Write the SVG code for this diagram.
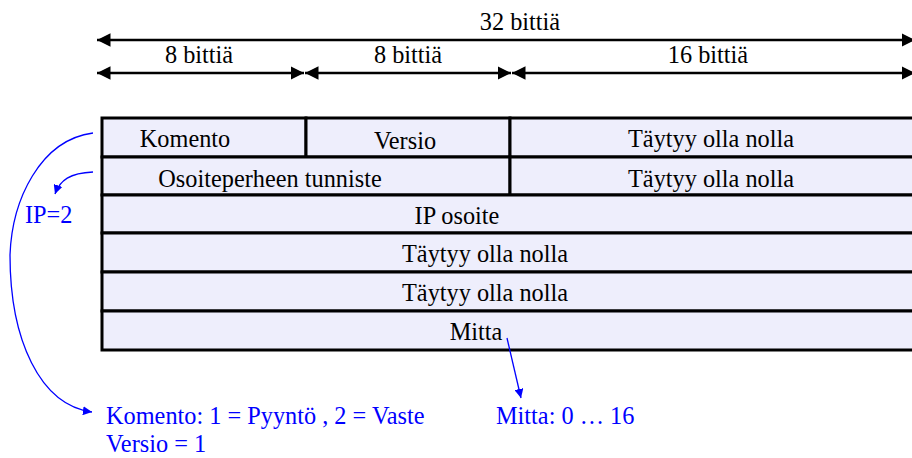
<svg xmlns="http://www.w3.org/2000/svg" width="912" height="458" viewBox="0 0 912 458">
<defs>
<style>
text{font-family:"Liberation Serif","Times New Roman",serif;font-size:24.3px;fill:#000}
.c{text-anchor:middle}
.b{fill:#0000ff}
.cell{fill:#eeeefc;stroke:#000;stroke-width:3}
.dim{stroke:#000;stroke-width:2.5;fill:none}
.note{stroke:#0000ff;stroke-width:1.3;fill:none}
</style>
<marker id="ah" viewBox="0 0 10 10" refX="10" refY="5" markerWidth="5.4" markerHeight="5.4" markerUnits="strokeWidth" orient="auto-start-reverse"><path d="M0,0 L10,5 L0,10 z" fill="#000"/></marker>
<marker id="bh" viewBox="0 0 10 10" refX="10" refY="5" markerWidth="7" markerHeight="7" markerUnits="strokeWidth" orient="auto"><path d="M0,0 L10,5 L0,10 z" fill="#0000ff"/></marker>
</defs>

<g id="dimensions">
<line class="dim" x1="97" y1="40" x2="915" y2="40" marker-start="url(#ah)" marker-end="url(#ah)"/>
<text class="c" x="520" y="30">32 bittiä</text>
<line class="dim" x1="97" y1="73" x2="304" y2="73" marker-start="url(#ah)" marker-end="url(#ah)"/>
<line class="dim" x1="305" y1="73" x2="511" y2="73" marker-start="url(#ah)" marker-end="url(#ah)"/>
<line class="dim" x1="512" y1="73" x2="915" y2="73" marker-start="url(#ah)" marker-end="url(#ah)"/>
<text class="c" x="199" y="63">8 bittiä</text>
<text class="c" x="408" y="63">8 bittiä</text>
<text class="c" x="708" y="63">16 bittiä</text>
</g>

<g id="row-komento">
<rect class="cell" x="102" y="118" width="204" height="39"/>
<rect class="cell" x="306" y="118" width="204" height="39"/>
<rect class="cell" x="510" y="118" width="410" height="39"/>
<text class="c" x="185" y="147">Komento</text>
<text class="c" x="405" y="149">Versio</text>
<text class="c" x="711" y="147">Täytyy olla nolla</text>
</g>

<g id="row-osoiteperhe">
<rect class="cell" x="102" y="157" width="408" height="38"/>
<rect class="cell" x="510" y="157" width="410" height="38"/>
<text class="c" x="270" y="187">Osoiteperheen tunniste</text>
<text class="c" x="711" y="187">Täytyy olla nolla</text>
</g>

<g id="row-ip">
<rect class="cell" x="102" y="195" width="818" height="38"/>
<text class="c" x="457" y="224">IP osoite</text>
</g>

<g id="row-nolla1">
<rect class="cell" x="102" y="233" width="818" height="39"/>
<text class="c" x="485" y="262">Täytyy olla nolla</text>
</g>

<g id="row-nolla2">
<rect class="cell" x="102" y="272" width="818" height="39"/>
<text class="c" x="485" y="301">Täytyy olla nolla</text>
</g>

<g id="row-mitta">
<rect class="cell" x="102" y="311" width="818" height="39"/>
<text class="c" x="476" y="340">Mitta</text>
</g>

<g id="connectors">
<path class="note" d="M93,172 C70,173 60,180 55,194" marker-end="url(#bh)"/>
<path class="note" d="M93,133 C40,140 12,200 10,255 C10,340 40,405 92,412" marker-end="url(#bh)"/>
<path class="note" d="M507,338 L521,398" marker-end="url(#bh)"/>
</g>

<g id="notes">
<text class="b" x="25" y="223">IP=2</text>
<text class="b" x="106" y="424">Komento: 1 = Pyyntö , 2 = Vaste</text>
<text class="b" x="106" y="452">Versio = 1</text>
<text class="b" x="496" y="424">Mitta: 0 … 16</text>
</g>
</svg>
